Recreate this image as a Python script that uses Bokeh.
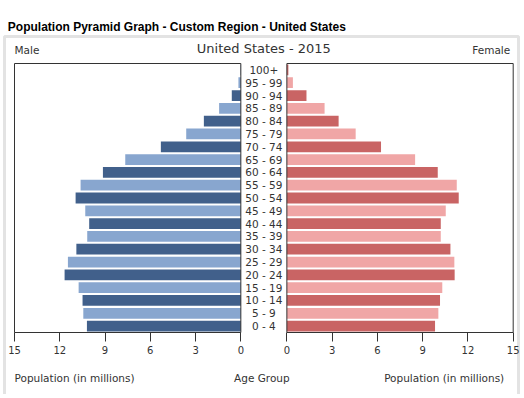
from bokeh.plotting import figure
from bokeh.models import LinearAxis, FixedTicker, CustomJSTickFormatter, Label, Range1d
from bokeh.core.properties import value
from bokeh.embed import file_html
from bokeh.resources import INLINE

# ---- data (bottom row first) ----
age_groups = ["0 - 4", "5 - 9", "10 - 14", "15 - 19", "20 - 24", "25 - 29", "30 - 34",
              "35 - 39", "40 - 44", "45 - 49", "50 - 54", "55 - 59", "60 - 64", "65 - 69",
              "70 - 74", "75 - 79", "80 - 84", "85 - 89", "90 - 94", "95 - 99", "100+"]
male = [10.2, 10.44, 10.49, 10.75, 11.68, 11.46, 10.9, 10.18, 10.05, 10.31, 10.95,
        10.62, 9.14, 7.66, 5.3, 3.62, 2.45, 1.44, 0.6, 0.16, 0.02]
female = [9.82, 10.04, 10.15, 10.3, 11.12, 11.1, 10.84, 10.2, 10.2, 10.53, 11.39,
          11.26, 10.0, 8.5, 6.24, 4.56, 3.43, 2.5, 1.3, 0.4, 0.1]
tick_values = [0, 3, 6, 9, 12, 15]
axis_max = 15

title_text = "Population Pyramid Graph - Custom Region - United States"
chart_title = "United States - 2015"

# ---- layout parameters (pixels) ----
W, H = 520, 394
plot_left, plot_right = 14.0, 512.7      # outer edges of the two halves
plot_top, plot_bottom = 63.0, 332.0      # top / bottom of the bar area
panel_left, panel_right, panel_top = 4.0, 518.0, 36.0
gap = 3.05                               # data-units gap between halves
male_dark, male_light = "#41608b", "#88a6cf"
female_dark, female_light = "#c96464", "#f0a6a6"
font = "DejaVu Sans"
txt_color = "#333333"

n = len(age_groups)
idx = list(range(n))
male_colors = [male_dark if i % 2 == 0 else male_light for i in idx]
female_colors = [female_dark if i % 2 == 0 else female_light for i in idx]

# ranges chosen so that the frame covers the whole canvas
sx = (plot_right - plot_left) / (2 * axis_max + gap)
x0 = -axis_max - plot_left / sx
x1 = x0 + W / sx
sy = (plot_bottom - plot_top) / n
y0 = -0.5 - (H - plot_bottom) / sy
y1 = n - 0.5 + plot_top / sy

p = figure(width=W, height=H, output_backend="svg", toolbar_location=None,
           x_axis_location=None, y_axis_location=None,
           min_border=0, min_border_left=0, min_border_right=0,
           min_border_top=0, min_border_bottom=0,
           x_range=Range1d(x0, x1), y_range=Range1d(y0, y1))
p.outline_line_color = None
p.xgrid.visible = False
p.ygrid.visible = False
p.background_fill_color = "white"
p.border_fill_color = "white"

# light grey panel around the chart
p.quad(left=x0 + panel_left / sx, right=x0 + panel_right / sx,
       top=y1 - panel_top / sy, bottom=y0 - 2,
       fill_color=None, line_color="#e3e3e3", line_width=3)

# bars
p.hbar(y=idx, left=[-v for v in male], right=0, height=0.84,
       fill_color=male_colors, line_color=None)
p.hbar(y=idx, left=gap, right=[gap + v for v in female], height=0.84,
       fill_color=female_colors, line_color=None)

# frames of both halves
p.quad(left=[-axis_max, gap], right=[0, gap + axis_max], bottom=-0.5, top=n - 0.5,
       fill_color=None, line_color="#333333", line_width=1)

# age group labels
p.text(x=gap / 2, y=idx, text=age_groups, text_align="center", text_baseline="middle",
       text_font=value(font), text_font_size="10.5px", text_color=txt_color)

# x axis with mirrored ticks, fixed at the bottom of the bar area
ticks = [-t for t in tick_values] + [gap + t for t in tick_values]
ax = LinearAxis(ticker=FixedTicker(ticks=ticks), fixed_location=-0.5,
                formatter=CustomJSTickFormatter(args=dict(gap=gap), code="""
                    const v = tick <= 0 ? -tick : tick - gap;
                    return Math.abs(v).toFixed(0);
                """))
ax.axis_line_color = None
ax.major_tick_line_color = "#333333"
ax.major_tick_in = 0
ax.major_tick_out = 9
ax.minor_tick_line_color = None
ax.major_label_standoff = 4
ax.major_label_text_font = font
ax.major_label_text_font_size = "10px"
ax.major_label_text_color = txt_color
p.add_layout(ax, "below")

top = n - 0.5
bottom = -0.5
labels = [
    Label(x=-axis_max, y=top, x_offset=-6.7, y_offset=37, text=title_text,
          text_font="Liberation Sans", text_font_style="bold", text_font_size="12px",
          text_baseline="alphabetic", text_align="left", text_color="black"),
    Label(x=gap / 2, y=top, y_offset=15, text=chart_title, text_font=font,
          text_font_size="13px", text_baseline="middle", text_align="center",
          text_color=txt_color),
    Label(x=-axis_max, y=top, y_offset=14, text="Male", text_font=font,
          text_font_size="10.5px", text_baseline="middle", text_align="left",
          text_color=txt_color),
    Label(x=axis_max + gap, y=top, x_offset=-3, y_offset=14, text="Female", text_font=font,
          text_font_size="10.5px", text_baseline="middle", text_align="right",
          text_color=txt_color),
    Label(x=-axis_max, y=bottom, y_offset=-45, text="Population (in millions)", text_font=font,
          text_font_size="10.5px", text_baseline="middle", text_align="left",
          text_color=txt_color),
    Label(x=gap / 2, y=bottom, x_offset=-2, y_offset=-45, text="Age Group", text_font=font,
          text_font_size="10.5px", text_baseline="middle", text_align="center",
          text_color=txt_color),
    Label(x=axis_max + gap, y=bottom, x_offset=-9, y_offset=-45,
          text="Population (in millions)", text_font=font,
          text_font_size="10.5px", text_baseline="middle", text_align="right",
          text_color=txt_color),
]
for lb in labels:
    p.add_layout(lb)

open("out.html", "w").write(file_html(p, INLINE))
